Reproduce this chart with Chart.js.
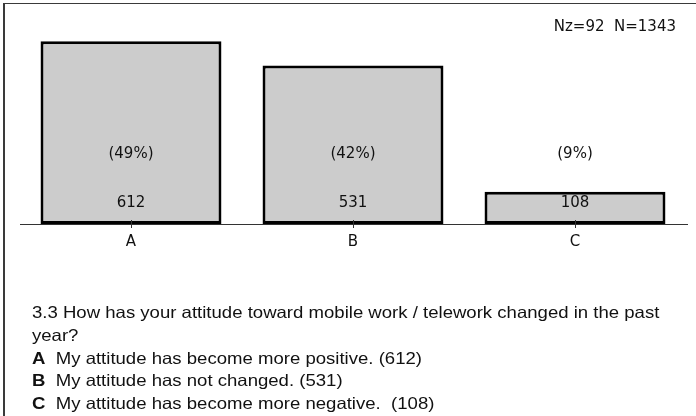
<!DOCTYPE html>
<html><head><meta charset="utf-8">
<script src="https://cdn.jsdelivr.net/npm/chart.js@4"></script>
<style>
html,body{margin:0;padding:0;background:#fff;}
#wrap{position:relative;width:696px;height:416px;overflow:hidden;}
#c{position:absolute;left:0;top:0;}
.bl{position:absolute;background:#3a3a3a;}
#q{position:absolute;left:31.5px;top:301px;font-family:"Liberation Sans",Arial,sans-serif;font-size:16.5px;line-height:22.8px;color:#111;white-space:nowrap;transform:scaleX(1.125);transform-origin:0 0;}
#q b{font-weight:bold;}
</style></head>
<body>
<div id="wrap">
<canvas id="c" width="696" height="416"></canvas>
<div class="bl" style="left:3px;top:3px;width:2px;height:413px"></div>
<div class="bl" style="left:3px;top:3px;width:693px;height:1px"></div>
<div id="q">
<div>3.3 How has your attitude toward mobile work / telework changed in the past</div>
<div>year?</div>
<div><b>A</b>&nbsp; My attitude has become more positive. (612)</div>
<div><b>B</b>&nbsp; My attitude has not changed. (531)</div>
<div><b>C</b>&nbsp; My attitude has become more negative.&nbsp; (108)</div>
</div>
</div>
<script>
const categories = ["A", "B", "C"];
const counts = [612, 531, 108];
const percents = [49, 42, 9];
const statsText = "Nz=92  N=1343";

const labelFont = '15px "DejaVu Sans", sans-serif';

const labelPlugin = {
  id: 'labels',
  afterDatasetsDraw(chart) {
    const ctx = chart.ctx;
    const x = chart.scales.x;
    const y = chart.scales.y;
    const area = chart.chartArea;
    const base = y.getPixelForValue(0);
    ctx.save();
    ctx.fillStyle = '#111';
    ctx.font = labelFont;
    ctx.textAlign = 'center';
    ctx.textBaseline = 'middle';
    // baseline
    ctx.strokeStyle = '#333';
    ctx.lineWidth = 1;
    ctx.beginPath();
    ctx.moveTo(area.left, Math.round(base) + 0.5);
    ctx.lineTo(area.right + 2, Math.round(base) + 0.5);
    ctx.stroke();
    counts.forEach((v, i) => {
      const px = x.getPixelForValue(i);
      ctx.fillText(String(v), px, base - 21);
      ctx.fillText('(' + percents[i] + '%)', px, base - 70);
      ctx.beginPath();
      ctx.moveTo(Math.round(px) + 0.5, base - 4);
      ctx.lineTo(Math.round(px) + 0.5, base + 4);
      ctx.stroke();
    });
    ctx.textAlign = 'right';
    ctx.fillText(statsText, 676, 27);
    ctx.restore();
  }
};

new Chart(document.getElementById('c'), {
  type: 'bar',
  data: {
    labels: categories,
    datasets: [{
      data: counts,
      backgroundColor: '#cccccc',
      borderColor: '#000',
      borderWidth: 3,
      borderSkipped: false,
      barPercentage: 0.815,
      categoryPercentage: 1
    }]
  },
  options: {
    responsive: false,
    animation: false,
    devicePixelRatio: 1,
    layout: { padding: { left: 20, right: 10, top: 15, bottom: 152 } },
    plugins: { legend: { display: false }, tooltip: { enabled: false } },
    scales: {
      x: {
        grid: { display: false, drawTicks: false },
        border: { display: false },
        ticks: { color: '#111', font: { family: 'DejaVu Sans', size: 15 }, padding: 9 },
        afterFit(s) { s.height = 40; }
      },
      y: {
        display: false,
        min: 0,
        max: 700
      }
    }
  },
  plugins: [labelPlugin]
});
</script>
</body></html>
